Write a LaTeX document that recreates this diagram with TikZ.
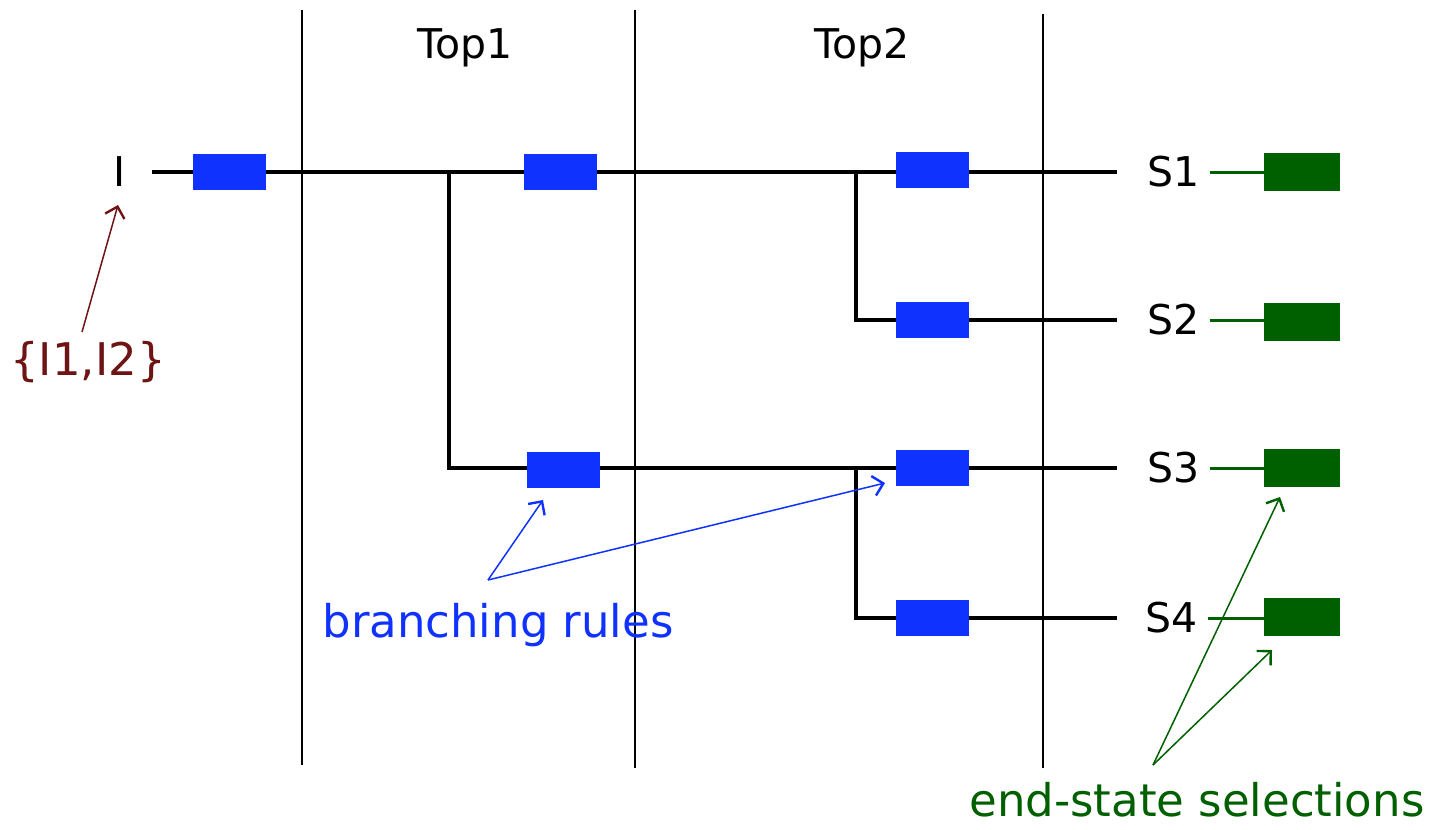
\documentclass[tikz,border=0pt]{standalone}
\usepackage{fontspec}
\setmainfont{DejaVu Sans}
\usetikzlibrary{arrows.meta}
\definecolor{rblue}{RGB}{16,50,255}
\definecolor{egreen}{RGB}{0,96,0}
\definecolor{dred}{RGB}{110,20,20}
\begin{document}
\begin{tikzpicture}[x=1pt,y=-1pt,
  rulebox/.style={fill=rblue, draw=none, minimum width=73pt, minimum height=36pt, inner sep=0pt},
  endbox/.style={fill=egreen, draw=none, minimum width=76pt, minimum height=38pt, inner sep=0pt},
  lbl/.style={font=\fontsize{41}{44}\selectfont, inner sep=0pt},
  note/.style={font=\fontsize{45}{48}\selectfont, inner sep=0pt},
  branch/.style={line width=3.6pt},
  sepline/.style={line width=2.2pt},
  gline/.style={line width=3pt, egreen},
  pointer/.style={line width=1.5pt, -{Straight Barb[length=10pt,width=20pt,line width=2.4pt]}}]
\useasboundingbox (0,0) rectangle (1438,830);
\fill[white] (0,0) rectangle (1438,830);

% column separators
\coordinate (v1t) at (302,10);  \coordinate (v1b) at (302,765);
\coordinate (v2t) at (635,10);  \coordinate (v2b) at (635,768);
\coordinate (v3t) at (1043,14); \coordinate (v3b) at (1043,768);
\draw[sepline] (v1t) -- (v1b);
\draw[sepline] (v2t) -- (v2b);
\draw[sepline] (v3t) -- (v3b);

\node[lbl] (top1) at (465,48) {Top1};
\node[lbl] (top2) at (862,48) {Top2};

% tree lines
\node[lbl] (I) at (120,172) {I};
\coordinate (start) at (152,172);
\coordinate (e1) at (1117,172);
\coordinate (e2) at (1117,320);
\coordinate (e3) at (1117,468);
\coordinate (e4) at (1117,618);
\coordinate (b1) at (449,172); \coordinate (b1d) at (449,468);
\coordinate (b2) at (856,172); \coordinate (b2d) at (856,320);
\coordinate (b3) at (856,468); \coordinate (b3d) at (856,618);
\draw[branch] (start) -- (e1);
\draw[branch] (b1) -- (b1d) -- (e3);
\draw[branch] (b2) -- (b2d) -- (e2);
\draw[branch] (b3) -- (b3d) -- (e4);

% branching-rule boxes
\node[rulebox] (r0) at (229.5,172) {};
\node[rulebox] (r1) at (560.5,172) {};
\node[rulebox] (r2) at (932,170) {};
\node[rulebox] (r3) at (932,320) {};
\node[rulebox] (r4) at (563.5,470) {};
\node[rulebox] (r5) at (932,468) {};
\node[rulebox] (r6) at (932,618) {};

% end states
\node[lbl,anchor=west] (S1) at (1147,172) {S1};
\node[lbl,anchor=west] (S2) at (1147,320) {S2};
\node[lbl,anchor=west] (S3) at (1147,468) {S3};
\node[lbl,anchor=west] (S4) at (1145,618) {S4};
\node[endbox] (g1) at (1302,172) {};
\node[endbox] (g2) at (1302,322) {};
\node[endbox] (g3) at (1302,468) {};
\node[endbox] (g4) at (1302,617) {};
\draw[gline] (S1.east) ++(10,0) -- (g1.west);
\draw[gline] (S2.east) ++(10,0) -- (g2.west |- S2.east);
\draw[gline] (S3.east) ++(10,0) -- (g3.west);
\draw[gline] (S4.east) ++(10,0) -- (g4.west |- S4.east);

% annotations
\node[note, text=dred] (iset) at (88,362) {\{I1,I2\}};
\coordinate (is) at (82,332);
\coordinate (itip) at (118,205);
\draw[pointer, dred] (is) -- (itip);

\node[note, text=rblue] (br) at (498,625) {branching rules};
\coordinate (brs) at (488,580);
\coordinate (brt1) at (543,500);
\coordinate (brt2) at (885,483);
\draw[pointer, rblue] (brs) -- (brt1);
\draw[pointer, rblue] (brs) -- (brt2);

\node[note, text=egreen] (es) at (1197,800) {end-state selections};
\coordinate (ess) at (1153,765);
\coordinate (est1) at (1280,497);
\coordinate (est2) at (1272,650);
\draw[pointer, egreen] (ess) -- (est1);
\draw[pointer, egreen] (ess) -- (est2);
\end{tikzpicture}
\end{document}
